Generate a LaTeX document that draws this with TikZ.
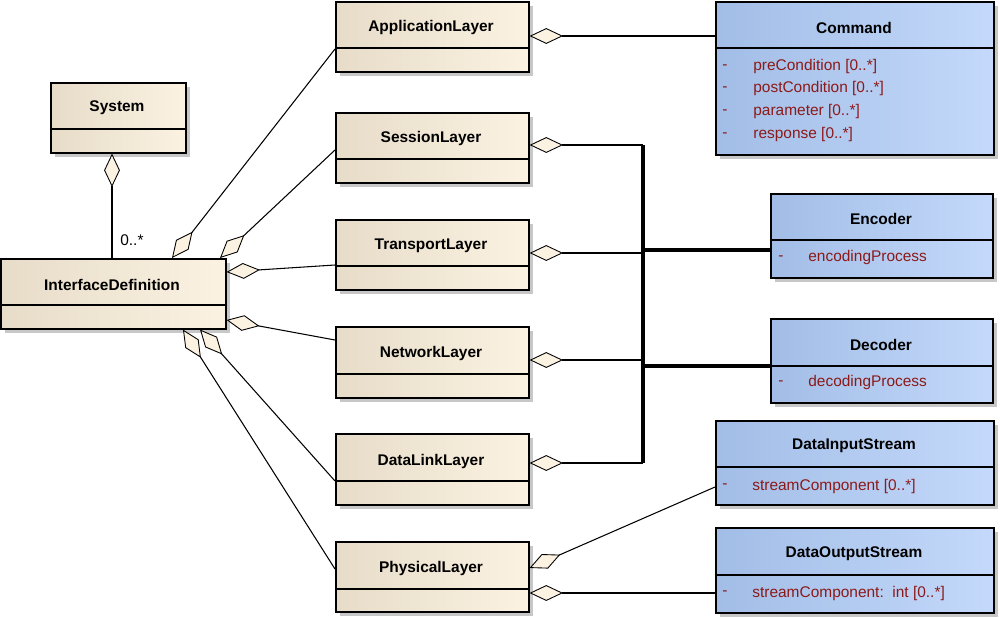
\documentclass[tikz,border=0pt]{standalone}
\usepackage{fontspec}
\setmainfont{Liberation Sans}
\usetikzlibrary{arrows.meta,calc,shadows}
\definecolor{creamL}{HTML}{E6DCC8}
\definecolor{creamR}{HTML}{FCF2E2}
\definecolor{blueL}{HTML}{A2BDE6}
\definecolor{blueR}{HTML}{C4D9FB}
\definecolor{attr}{HTML}{8B1A1A}
\tikzset{
  cls/.style={draw=black, line width=0.9pt, anchor=north west, inner sep=0pt,
    drop shadow={shadow xshift=2.5pt, shadow yshift=-2.5pt, fill=black!22, opacity=1}},
  cream/.style={cls, left color=creamL, right color=creamR},
  blue/.style={cls, left color=blueL, right color=blueR},
  title/.style={font=\bfseries\fontsize{8.8}{10}\selectfont},
  att/.style={font=\fontsize{8.8}{10}\selectfont, text=attr, anchor=west, inner sep=0pt},
  div/.style={line width=0.9pt},
  agg/.style={{Diamond[length=19pt,width=9pt,fill=creamR,line width=0.5pt]}-, line width=0.6pt},
  bus/.style={line width=2pt}
}
\newcommand\mkcls[7]{% name, style, x1,y1,x2,y2, ydiv
  \node[#2, minimum width={(#5-#3)*0.02cm}, minimum height={(#6-#4)*0.02cm}] (#1) at (#3,#4) {};
  \draw[div] (#3,#7) -- (#5,#7);
}
\begin{document}
\begin{tikzpicture}[x=0.02cm,y=-0.02cm]
\useasboundingbox (0,0) rectangle (1000,618);
% classes
\mkcls{sys}{cream}{50}{82}{185}{152}{129}
\mkcls{id}{cream}{0}{258}{225}{328}{305}
\mkcls{app}{cream}{335}{1}{528}{71}{48}
\mkcls{ses}{cream}{335}{112}{528}{182}{159}
\mkcls{tra}{cream}{335}{219}{528}{289}{266}
\mkcls{net}{cream}{335}{326}{528}{397}{374}
\mkcls{dl}{cream}{335}{433}{528}{504}{481}
\mkcls{ph}{cream}{335}{541}{528}{611}{589}
\mkcls{cmd}{blue}{715}{1}{993}{154}{48}
\mkcls{enc}{blue}{770}{193}{992}{277}{240}
\mkcls{dec}{blue}{770}{318}{992}{402}{366}
\mkcls{dis}{blue}{715}{420}{993}{504}{467}
\mkcls{dos}{blue}{715}{527}{993}{612}{575}
% titles
\node[title] (tsys) at (117,108) {System};
\node[title] (tid) at (112,285) {InterfaceDefinition};
\node[title] (tapp) at (431,28) {ApplicationLayer};
\node[title] (tses) at (431,139) {SessionLayer};
\node[title] (ttra) at (431,246) {TransportLayer};
\node[title] (tnet) at (431,354) {NetworkLayer};
\node[title] (tdl) at (431,461) {DataLinkLayer};
\node[title] (tph) at (431,568) {PhysicalLayer};
\node[title] (tcmd) at (854,28) {Command};
\node[title] (tenc) at (881,219) {Encoder};
\node[title] (tdec) at (881,345) {Decoder};
\node[title] (tdis) at (854,446) {DataInputStream};
\node[title] (tdos) at (854,554) {DataOutputStream};
% attributes
\foreach \yy/\tx [count=\i] in {67/{preCondition [0..*]},89/{postCondition [0..*]},112/{parameter [0..*]},135/{response [0..*]}}{
  \node[att] (m\i) at (722,\yy) {-};
  \node[att] (a\i) at (753,\yy) {\tx};
}
\node[att] (me) at (778,258) {-};
\node[att] (ae) at (808,258) {encodingProcess};
\node[att] (md) at (778,383) {-};
\node[att] (ad) at (808,383) {decodingProcess};
\node[att] (mi) at (722,486) {-};
\node[att] (ai) at (752,486) {streamComponent [0..*]};
\node[att] (mo) at (722,593) {-};
\node[att] (ao) at (752,593) {streamComponent:\ \ int [0..*]};
% connectors left
\draw[agg] ($(sys.south west)+(62,0)$) -- ($(id.north west)+(112,0)$);
\node[font=\fontsize{8.8}{10}\selectfont, anchor=west, inner sep=0pt] (mult) at (120,240) {0..*};
\draw[agg] ($(id.north west)+(172,0)$) -- ($(app.north west)+(0,48)$);
\draw[agg] ($(id.north west)+(220,0)$) -- ($(ses.north west)+(0,38)$);
\draw[agg] ($(id.north east)+(0,14)$) -- ($(tra.north west)+(0,46)$);
\draw[agg] ($(id.north east)+(0,62)$) -- ($(net.north west)+(0,14)$);
\draw[agg] ($(id.south west)+(200,0)$) -- ($(dl.north west)+(0,48)$);
\draw[agg] ($(id.south west)+(183,0)$) -- ($(ph.north west)+(0,28)$);
% connectors right
\coordinate (bt) at (643,145);
\coordinate (bb) at (643,463);
\coordinate (be) at (643,250);
\coordinate (bd) at (643,366);
\draw[agg] ($(app.north east)+(0,35)$) -- ($(cmd.north west)+(0,35)$);
\draw[agg] ($(ses.north east)+(0,33)$) -- (bt);
\draw[agg] ($(tra.north east)+(0,34)$) -- (be |- 0,253);
\draw[agg] ($(net.north east)+(0,34)$) -- (bd |- 0,360);
\draw[agg] ($(dl.north east)+(0,30)$) -- (bb);
\draw[bus] (bt) -- (bb);
\draw[bus] (be) -- (enc.west |- be);
\draw[bus] (bd) -- (dec.west |- bd);
\draw[agg] ($(ph.north east)+(0,27)$) -- ($(dis.north west)+(0,67)$);
\draw[agg] ($(ph.north east)+(0,52)$) -- ($(dos.north west)+(0,66)$);
\end{tikzpicture}
\end{document}
